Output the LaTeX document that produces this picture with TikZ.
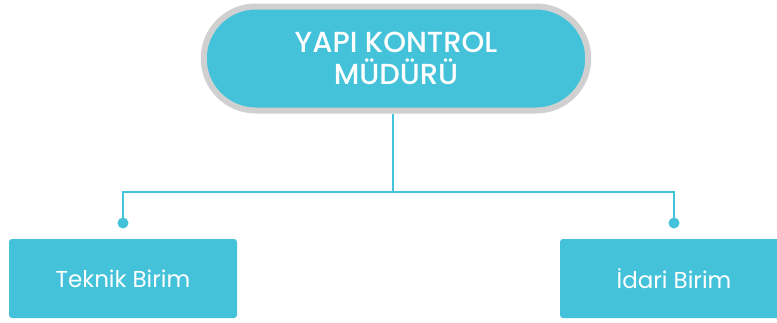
\documentclass[tikz,border=0pt]{standalone}
\usepackage{fontspec}
\setmainfont{Poppins}
\newfontfamily\poppinsorta{Poppins Medium}
\usepackage{tikz}
\usetikzlibrary{calc}
\definecolor{turkuaz}{HTML}{44C2DA}
\definecolor{cerceve}{HTML}{D0D0D0}

\begin{document}
\begin{tikzpicture}[x=1pt,y=-1pt,
  birim/.style={rectangle,rounded corners=3pt,fill=turkuaz,minimum width=228pt,minimum height=79pt,text=white,font=\fontsize{23}{27}\selectfont},
  baglanti/.style={turkuaz,line width=2.8pt},
  nokta/.style={circle,fill=turkuaz,inner sep=0pt,minimum size=11pt}]
\useasboundingbox (0,0) rectangle (777,322);
\node[rectangle,rounded corners=52pt,fill=turkuaz,draw=cerceve,line width=6pt,minimum width=384.5pt,minimum height=104pt,text=white,align=center,font=\poppinsorta\fontsize{29}{32}\selectfont] (mudur) at (396,58.5) {YAPI KONTROL\\MÜDÜRÜ};
\node[birim] (teknik) at (123,278.5) {Teknik Birim};
\node[birim] (idari) at (674,278.5) {İdari Birim};
\node[nokta] (tnokta) at (123,223) {};
\node[nokta] (inokta) at (674,223) {};
\coordinate (kol) at (393,192);
\draw[baglanti] (mudur.south -| kol) -- (kol) -| (tnokta.center);
\draw[baglanti] (kol) -| (inokta.center);
\end{tikzpicture}
\end{document}
